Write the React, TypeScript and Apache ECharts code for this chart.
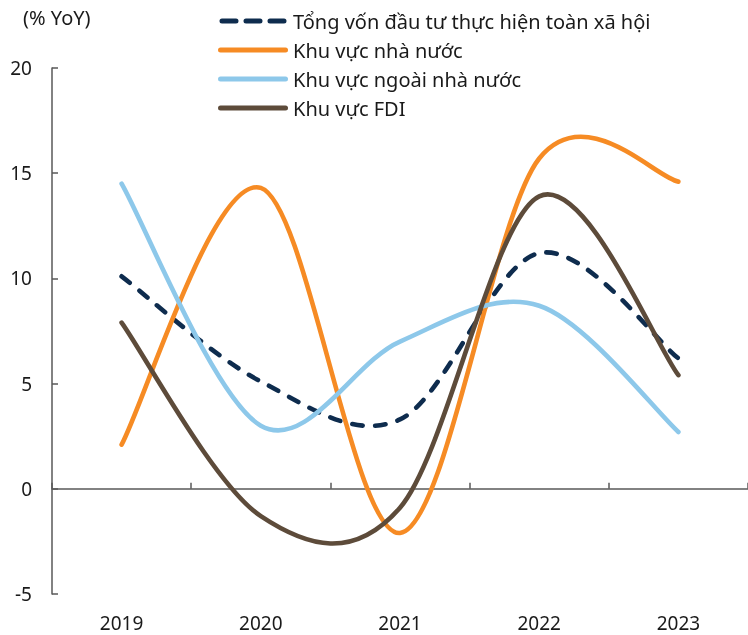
import React, { useEffect, useRef } from "react";
import * as echarts from "echarts";

const years = ["2019", "2020", "2021", "2022", "2023"];
const totalInvestment = [10.1, 5.1, 3.3, 11.2, 6.2];
const stateSector = [2.1, 14.3, -2.1, 15.7, 14.6];
const nonStateSector = [14.5, 3.0, 7.0, 8.7, 2.7];
const fdiSector = [7.9, -1.3, -0.9, 13.9, 5.4];
const seriesNames = [
  "Tổng vốn đầu tư thực hiện toàn xã hội",
  "Khu vực nhà nước",
  "Khu vực ngoài nhà nước",
  "Khu vực FDI",
];
const unitLabel = "(% YoY)";
const yMin = -5;
const yMax = 20;
const yStep = 5;

const FONT = "Noto Sans";
const TEXT = "#1a1a1a";
const AXIS = "#595959";
const COLORS = ["#0e2c4e", "#f68b24", "#8dc8ea", "#5d4b3a"];

const SOLID_ICON =
  "path://M2.5,0 H67.5 A2.5,2.5 0 0 1 67.5,5 H2.5 A2.5,2.5 0 0 1 2.5,0 Z";
const DASH_ICON =
  "path://M2.5,0 H16.5 A2.5,2.5 0 0 1 16.5,5 H2.5 A2.5,2.5 0 0 1 2.5,0 Z " +
  "M26.5,0 H40.5 A2.5,2.5 0 0 1 40.5,5 H26.5 A2.5,2.5 0 0 1 26.5,0 Z " +
  "M50.5,0 H64.5 A2.5,2.5 0 0 1 64.5,5 H50.5 A2.5,2.5 0 0 1 50.5,0 Z";

// Smooth curve through the points (Catmull-Rom style Bezier), points come from api.coord
function makeRenderer(vals: number[], color: string, dashed: boolean) {
  return (params: any, api: any) => {
    if (params.dataIndex !== 0) return null;
    const pts = vals.map((v, j) => api.coord([j, v]));
    let d = `M${pts[0][0]},${pts[0][1]}`;
    for (let j = 0; j < pts.length - 1; j++) {
      const p0 = pts[j - 1] || pts[j];
      const p1 = pts[j];
      const p2 = pts[j + 1];
      const p3 = pts[j + 2] || pts[j + 1];
      const c1x = p1[0] + (p2[0] - p0[0]) / 6;
      const c1y = p1[1] + (p2[1] - p0[1]) / 6;
      const c2x = p2[0] - (p3[0] - p1[0]) / 6;
      const c2y = p2[1] - (p3[1] - p1[1]) / 6;
      d += ` C${c1x},${c1y} ${c2x},${c2y} ${p2[0]},${p2[1]}`;
    }
    return {
      type: "path",
      shape: { pathData: d },
      style: {
        fill: "none",
        stroke: color,
        lineWidth: 4.6,
        lineCap: "round",
        lineJoin: "round",
        lineDash: dashed ? [10.5, 12.5] : null,
      },
    };
  };
}

export default function App() {
  const ref = useRef<HTMLDivElement>(null);
  useEffect(() => {
    if (!ref.current) return;
    const chart = echarts.init(ref.current, undefined, { renderer: "svg" });
    const values = [totalInvestment, stateSector, nonStateSector, fdiSector];
    chart.setOption({
      animation: false,
      textStyle: { fontFamily: FONT },
      grid: { left: 52, right: -4, top: 68, bottom: 41, containLabel: false },
      legend: {
        orient: "vertical",
        left: 213,
        top: 6,
        itemWidth: 70,
        itemHeight: 5,
        itemGap: 9,
        textStyle: { fontSize: 20, color: TEXT, fontFamily: FONT },
        data: seriesNames.map((n, i) => ({
          name: n,
          icon: i === 0 ? DASH_ICON : SOLID_ICON,
          itemStyle: { color: COLORS[i] },
        })),
      },
      graphic: [
        {
          type: "text",
          left: 23,
          top: 7,
          style: { text: unitLabel, fontSize: 20, fill: TEXT, fontFamily: FONT },
        },
      ],
      xAxis: [
        {
          type: "category",
          data: years,
          position: "bottom",
          axisLine: { show: false, onZero: false },
          axisTick: { show: false },
          axisLabel: { fontSize: 19, color: TEXT, margin: 19, fontFamily: FONT },
        },
        {
          type: "category",
          data: years,
          position: "bottom",
          axisLine: { show: true, onZero: true, lineStyle: { color: AXIS, width: 1.5 } },
          axisTick: { show: true, inside: true, length: 6, lineStyle: { color: AXIS, width: 1.5 } },
          axisLabel: { show: false },
        },
      ],
      yAxis: {
        type: "value",
        min: yMin,
        max: yMax,
        interval: yStep,
        splitLine: { show: false },
        axisLine: { show: true, lineStyle: { color: AXIS, width: 1.5 } },
        axisTick: { show: true, inside: true, length: 6, lineStyle: { color: AXIS, width: 1.5 } },
        axisLabel: { fontSize: 19, color: TEXT, margin: 20, fontFamily: FONT },
      },
      series: values.map((vals, i) => ({
        name: seriesNames[i],
        type: "custom",
        xAxisIndex: 0,
        yAxisIndex: 0,
        data: vals.map((v, j) => [j, v]),
        encode: { x: 0, y: 1 },
        color: COLORS[i],
        itemStyle: { color: COLORS[i] },
        z: 2 + i,
        renderItem: makeRenderer(vals, COLORS[i], i === 0),
      })),
    });
    return () => chart.dispose();
  }, []);
  return (
    <div
      ref={ref}
      style={{ position: "fixed", left: 0, top: 0, width: 748, height: 635 }}
    />
  );
}
